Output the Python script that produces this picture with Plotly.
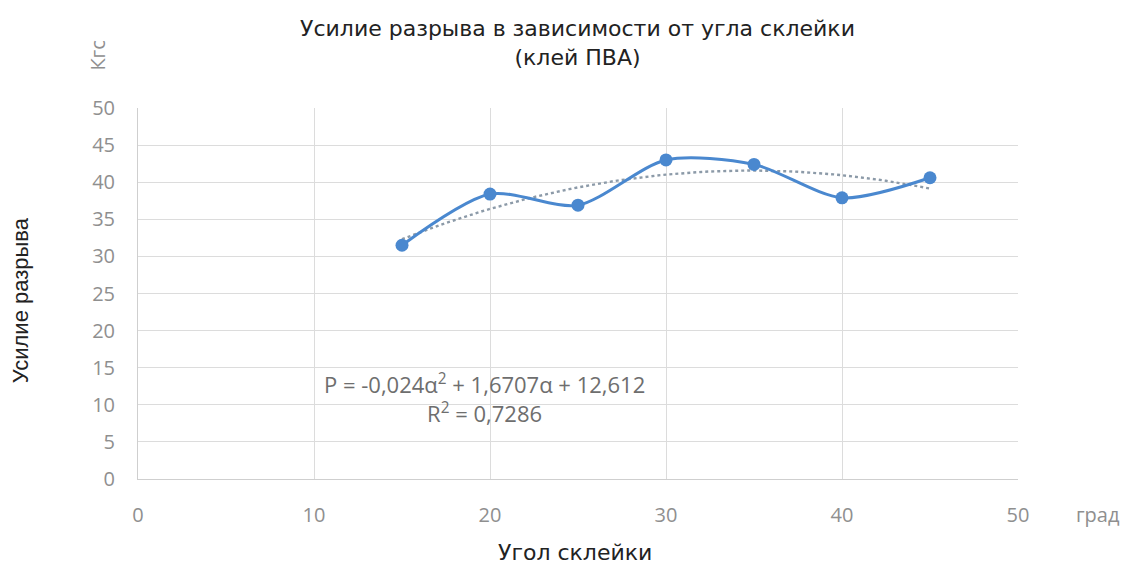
import numpy as np
import plotly.graph_objects as go

angles = [15, 20, 25, 30, 35, 40, 45]
force = [31.5, 38.4, 36.9, 43.0, 42.4, 37.9, 40.6]
x_ticks = [0, 10, 20, 30, 40, 50]
y_ticks = [0, 5, 10, 15, 20, 25, 30, 35, 40, 45, 50]

coef = np.polyfit(angles, force, 2)
tx = np.linspace(min(angles), max(angles), 61)
ty = np.polyval(coef, tx)

tick_font = dict(family="'Open Sans', Lato, sans-serif", size=20, color="#8f8f8f")
title_font = dict(family="'DejaVu Sans', sans-serif", size=22, color="#222222")
ylab_font = dict(family="'Liberation Sans', Arial, sans-serif", size=22, color="#222222")

fig = go.Figure()
fig.add_trace(go.Scatter(x=tx, y=ty, mode="lines",
                         line=dict(color="#8c9aa8", width=2.4, dash="dot"),
                         hoverinfo="skip", showlegend=False))
fig.add_trace(go.Scatter(x=angles, y=force, mode="lines+markers",
                         line=dict(color="#4a88cf", width=3, shape="spline", smoothing=0.8),
                         marker=dict(color="#4a88cf", size=13),
                         showlegend=False))

fig.update_layout(
    width=1130, height=578,
    paper_bgcolor="white", plot_bgcolor="white",
    margin=dict(l=130, r=120, t=100, b=107),
    title=dict(text="Усилие разрыва в зависимости от угла склейки<br>(клей ПВА)",
               x=0.504, xanchor="center", y=0.951, yanchor="middle",
               font=title_font),
    xaxis=dict(range=[0, 50], tickvals=x_ticks, showgrid=True, gridcolor="#dcdcdc", gridwidth=1,
               zeroline=False, showline=True, linecolor="#cfcfcf", mirror=False,
               tickfont=tick_font, ticks="outside", ticklen=18, tickcolor="rgba(0,0,0,0)"),
    yaxis=dict(range=[0, 50], tickvals=y_ticks, showgrid=True, gridcolor="#dcdcdc", gridwidth=1,
               zeroline=False, showline=True, linecolor="#cfcfcf",
               tickfont=tick_font, ticks="outside", ticklen=18, tickcolor="rgba(0,0,0,0)"),
    annotations=[
        dict(text="Усилие разрыва", xref="paper", yref="paper", x=-0.134, y=0.482,
             xanchor="center", yanchor="middle",
             textangle=-90, showarrow=False, font=ylab_font),
        dict(text="Угол склейки", xref="paper", yref="paper", x=0.497, y=-0.199,
             xanchor="center", yanchor="middle", showarrow=False, font=title_font),
        dict(text="Кгс", xref="paper", yref="paper", x=-0.046, y=1.140,
             xanchor="center", yanchor="middle",
             textangle=-90, showarrow=False, font=tick_font),
        dict(text="град", xref="paper", yref="paper", x=1.091, y=-0.097,
             xanchor="center", yanchor="middle", showarrow=False, font=tick_font),
        dict(text="P = -0,024α<sup>2</sup> + 1,6707α + 12,612<br>R<sup>2</sup> = 0,7286",
             xref="paper", yref="paper", x=0.394, y=0.218, showarrow=False,
             xanchor="center", yanchor="middle",
             align="center", font=dict(family="'Open Sans', Lato, sans-serif", size=22, color="#6e6e6e")),
    ],
)

fig.write_html("out.html")
